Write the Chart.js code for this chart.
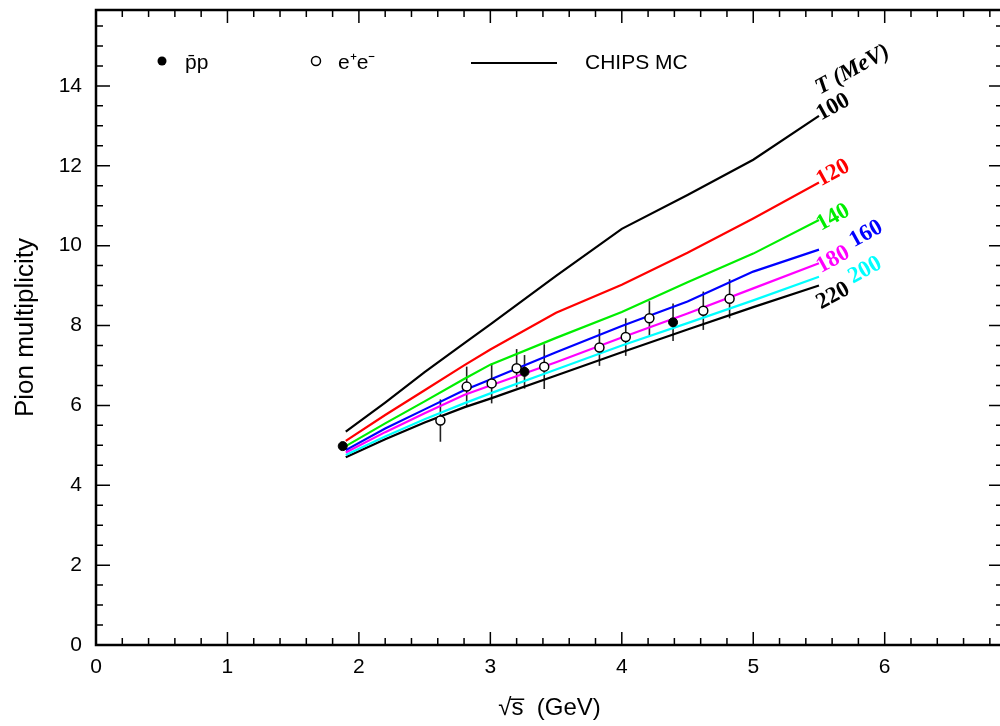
<!DOCTYPE html>
<html><head><meta charset="utf-8">
<script src="https://cdn.jsdelivr.net/npm/chart.js@4/dist/chart.umd.min.js"></script>
<style>html,body{margin:0;padding:0;overflow:hidden;background:#fff;width:1000px;height:726px}canvas{display:block}</style>
</head><body><canvas id="c" width="1010" height="726"></canvas>
<script>
// ---- data ----
const sqrtS = [1.9, 2.2, 2.5, 2.8, 3.0, 3.5, 4.0, 4.5, 5.0, 5.5];
const mc100 = [5.34, 6.07, 6.83, 7.55, 8.03, 9.24, 10.42, 11.27, 12.15, 13.25];
const mc120 = [5.11, 5.76, 6.38, 7.00, 7.40, 8.32, 9.02, 9.82, 10.68, 11.58];
const mc140 = [4.98, 5.55, 6.10, 6.66, 7.02, 7.69, 8.34, 9.08, 9.80, 10.64];
const mc160 = [4.88, 5.42, 5.90, 6.38, 6.65, 7.33, 7.99, 8.60, 9.35, 9.90];
const mc180 = [4.82, 5.33, 5.80, 6.26, 6.50, 7.08, 7.70, 8.30, 8.93, 9.56];
const mc200 = [4.76, 5.22, 5.65, 6.05, 6.30, 6.90, 7.50, 8.06, 8.63, 9.22];
const mc220 = [4.70, 5.15, 5.57, 5.95, 6.17, 6.75, 7.33, 7.90, 8.46, 9.00];
const temperatures = ['100', '120', '140', '160', '180', '200', '220'];
const ppbarX = [1.877, 3.26, 4.39];
const ppbarY = [4.98, 6.84, 8.08];
const ppbarErr = [0, 0.42, 0.47];
const eeX = [2.62, 2.82, 3.01, 3.20, 3.41, 3.83, 4.03, 4.21, 4.62, 4.82];
const eeY = [5.62, 6.47, 6.55, 6.93, 6.97, 7.45, 7.71, 8.18, 8.37, 8.67];
const eeErr = [0.53, 0.50, 0.50, 0.48, 0.56, 0.46, 0.47, 0.43, 0.48, 0.49];
const xTicks = [0, 1, 2, 3, 4, 5, 6];
const yTicks = [0, 2, 4, 6, 8, 10, 12, 14];

// ---- styles ----
const curves = [mc100, mc120, mc140, mc160, mc180, mc200, mc220];
const curveColors = ['#000000', '#ff0000', '#00ee00', '#0000ff', '#ff00ff', '#00ffff', '#000000'];
// label offsets (px) relative to each curve's last point
const labelOffsets = [[2, 5], [2, 4], [2, 11], [35, -2], [2, 10], [34, 7], [2, 24]];
const SANS = '"Liberation Sans", Arial, sans-serif';
const SERIF = '"Liberation Serif", "Times New Roman", serif';

const datasets = curves.map((vals, i) => ({
  type: 'scatter', showLine: true, order: 5,
  data: sqrtS.map((x, j) => ({x, y: vals[j]})),
  borderColor: curveColors[i], borderWidth: 2.2, pointRadius: 0, tension: 0, fill: false
}));
datasets.push({
  type: 'scatter', order: 1, data: eeX.map((x, j) => ({x, y: eeY[j]})),
  pointRadius: 4.5, backgroundColor: '#ffffff', borderColor: '#000000', borderWidth: 1.5
});
datasets.push({
  type: 'scatter', order: 0, data: ppbarX.map((x, j) => ({x, y: ppbarY[j]})),
  pointRadius: 4.5, backgroundColor: '#000000', borderColor: '#000000', borderWidth: 1
});

const decor = {
  id: 'decor',
  beforeDatasetsDraw(chart) {
    const {ctx, scales: {x, y}} = chart;
    ctx.save();
    ctx.strokeStyle = '#222'; ctx.lineWidth = 1.6;
    const bars = (xs, ys, es) => xs.forEach((v, i) => {
      if (!es[i]) return;
      const px = x.getPixelForValue(v);
      ctx.beginPath();
      ctx.moveTo(px, y.getPixelForValue(ys[i] - es[i]));
      ctx.lineTo(px, y.getPixelForValue(ys[i] + es[i]));
      ctx.stroke();
    });
    bars(eeX, eeY, eeErr);
    bars(ppbarX, ppbarY, ppbarErr);
    ctx.restore();
  },
  afterDatasetsDraw(chart) {
    const {ctx, scales: {x, y}} = chart;
    ctx.save();
    // curve labels
    const ang = -29 * Math.PI / 180;
    const last = sqrtS.length - 1;
    const ex = x.getPixelForValue(sqrtS[last]);
    const drawRot = (txt, px, py, font, color) => {
      ctx.save(); ctx.translate(px, py); ctx.rotate(ang);
      ctx.font = font; ctx.fillStyle = color; ctx.textAlign = 'left'; ctx.textBaseline = 'alphabetic';
      ctx.fillText(txt, 0, 0); ctx.restore();
    };
    curves.forEach((vals, i) => {
      const ey = y.getPixelForValue(vals[last]);
      drawRot(temperatures[i], ex + labelOffsets[i][0], ey + labelOffsets[i][1], 'bold 23px ' + SERIF, curveColors[i]);
    });
    drawRot('T (MeV)', ex + 1, y.getPixelForValue(mc100[last]) - 21, 'italic bold 23px ' + SERIF, '#000');
    // legend
    ctx.fillStyle = '#000'; ctx.strokeStyle = '#000';
    ctx.beginPath(); ctx.arc(162, 61, 4.5, 0, Math.PI * 2); ctx.fill();
    ctx.lineWidth = 1.5;
    ctx.beginPath(); ctx.arc(316, 61, 4.5, 0, Math.PI * 2); ctx.stroke();
    ctx.lineWidth = 2;
    ctx.beginPath(); ctx.moveTo(471, 63); ctx.lineTo(557, 63); ctx.stroke();
    ctx.font = '21px ' + SANS; ctx.textBaseline = 'alphabetic'; ctx.textAlign = 'left';
    ctx.fillText('p\u0304p', 185, 69);
    ctx.fillText('e\u207Ae\u207B', 338, 69);
    ctx.fillText('CHIPS MC', 585, 69);
    ctx.restore();
  },
  afterDraw(chart) {
    const {ctx, chartArea: a, scales: {x, y}} = chart;
    ctx.save();
    ctx.strokeStyle = '#000';
    ctx.lineWidth = 1.5;
    const tickX = (v, len) => {
      const px = x.getPixelForValue(v);
      ctx.beginPath();
      ctx.moveTo(px, a.bottom); ctx.lineTo(px, a.bottom - len);
      ctx.moveTo(px, a.top); ctx.lineTo(px, a.top + len);
      ctx.stroke();
    };
    const tickY = (v, len) => {
      const py = y.getPixelForValue(v);
      ctx.beginPath();
      ctx.moveTo(a.left, py); ctx.lineTo(a.left + len, py);
      ctx.moveTo(a.right, py); ctx.lineTo(a.right - len, py);
      ctx.stroke();
    };
    for (let k = 1; k * 0.2 < x.max; k++) { if (k % 5) tickX(k * 0.2, 7); }
    xTicks.forEach(v => tickX(v, 13));
    for (let k = 1; k * 0.5 < y.max; k++) { if (k % 4) tickY(k * 0.5, 7); }
    yTicks.forEach(v => tickY(v, 14));
    ctx.lineWidth = 2.5;
    ctx.strokeRect(a.left, a.top, a.right - a.left, a.bottom - a.top);
    ctx.restore();
  }
};

new Chart(document.getElementById('c'), {
  type: 'scatter',
  data: {datasets},
  options: {
    responsive: false, animation: false, devicePixelRatio: 1,
    layout: {padding: {top: 10, right: 7, left: 0, bottom: 0}},
    plugins: {legend: {display: false}, tooltip: {enabled: false}},
    scales: {
      x: {
        type: 'linear', position: 'bottom', min: 0, max: 6.9,
        afterFit(s) { s.height = 81; s.paddingLeft = 0; s.paddingRight = 0; },
        afterBuildTicks(s) { s.ticks = xTicks.map(v => ({value: v})); },
        grid: {display: false, drawTicks: false}, border: {display: false},
        ticks: {color: '#000', font: {family: SANS, size: 21}, padding: 10, maxRotation: 0, autoSkip: false},
        title: {display: true, text: '\u221As\u0305  (GeV)', color: '#000', font: {family: SANS, size: 24}, padding: {top: 0, bottom: 3}}
      },
      y: {
        type: 'linear', min: 0, max: 15.9,
        afterFit(s) { s.width = 96; s.paddingTop = 0; s.paddingBottom = 0; },
        afterBuildTicks(s) { s.ticks = yTicks.map(v => ({value: v})); },
        grid: {display: false, drawTicks: false}, border: {display: false},
        ticks: {color: '#000', font: {family: SANS, size: 21}, padding: 14, autoSkip: false},
        title: {display: true, text: 'Pion multiplicity', color: '#000', font: {family: SANS, size: 26}, padding: {top: 10, bottom: 0}}
      }
    }
  },
  plugins: [decor]
});
</script>
</body></html>
